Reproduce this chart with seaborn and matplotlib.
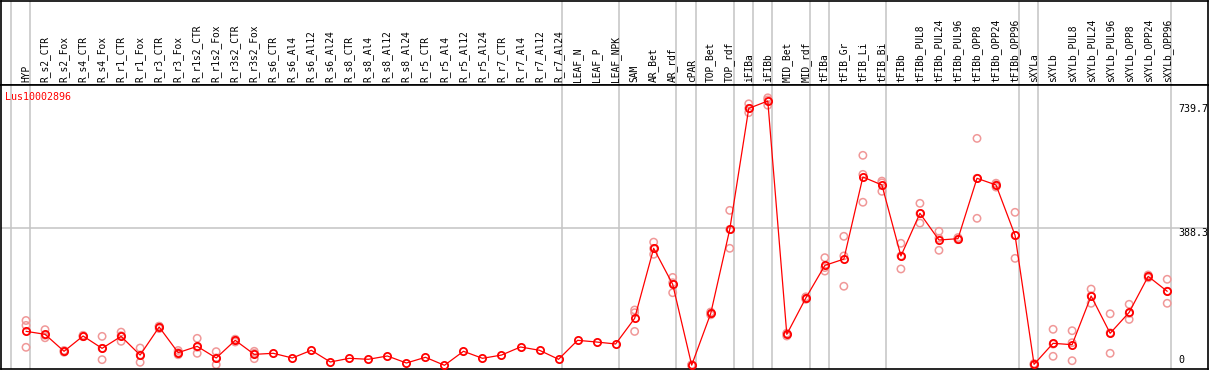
import numpy as np
import pandas as pd
import matplotlib
matplotlib.use("Agg")
import matplotlib.pyplot as plt
import seaborn as sns

# sample names, in plot order
samples = ["HYP", "R_s2_CTR", "R_s2_Fox", "R_s4_CTR", "R_s4_Fox", "R_r1_CTR", "R_r1_Fox",
           "R_r3_CTR", "R_r3_Fox", "R_r1s2_CTR", "R_r1s2_Fox", "R_r3s2_CTR", "R_r3s2_Fox",
           "R_s6_CTR", "R_s6_Al4", "R_s6_Al12", "R_s6_Al24", "R_s8_CTR", "R_s8_Al4", "R_s8_Al12",
           "R_s8_Al24", "R_r5_CTR", "R_r5_Al4", "R_r5_Al12", "R_r5_Al24", "R_r7_CTR", "R_r7_Al4",
           "R_r7_Al12", "R_r7_Al24", "LEAF_N", "LEAF_P", "LEAF_NPK", "SAM", "AR_Bet", "AR_rdf",
           "cPAR", "TOP_Bet", "TOP_rdf", "iFIBa", "iFIBb", "MID_Bet", "MID_rdf", "tFIBa",
           "tFIB_Gr", "tFIB_Li", "tFIB_Bi", "tFIBb", "tFIBb_PUL8", "tFIBb_PUL24", "tFIBb_PUL96",
           "tFIBb_OPP8", "tFIBb_OPP24", "tFIBb_OPP96", "sXYLa", "sXYLb", "sXYLb_PUL8",
           "sXYLb_PUL24", "sXYLb_PUL96", "sXYLb_OPP8", "sXYLb_OPP24", "sXYLb_OPP96"]

# mean expression per sample
means = [96.3, 87.8, 39.7, 83, 48, 82, 29, 108.5, 35.8, 53.7,
         20.7, 70.8, 31, 34, 20.7, 42.5, 9.4, 19.8, 17, 26.4,
         6.5, 22.7, 0, 39.7, 19.8, 29, 51.9, 42.5, 17, 70.8,
         66, 60.4, 133, 331.5, 229.5, 0.5, 147, 385, 728, 749,
         87.8, 190.7, 283, 301, 533.6, 511, 309.7, 430.7, 355, 358.8,
         529.9, 511, 368.4, 2.8, 62.3, 58.4, 196.4, 90.7, 150, 252, 209.7]

nan = np.nan
# biological replicates (NaN where none shown)
rep_a = [127, 101, 42, 85, 82, 94, 49, 111, 42, 76.4, 38.7, 74, 39.7] + [nan] * 19 + \
        [156.7, 349, 249, 2, 151, 439, 741, 758, 91, 194, 305, 365.5, 595, 522,
         345.7, 459, 379.7, 362, 643, 516, 433.5, 5, 102, 98, 216, 146, 172.9, 256, 243.7]
rep_b = [51, 78, 37, 81, 16, 68, 8.5, 104, 30, 34, 1.8, 66, 18.8] + [nan] * 19 + \
        [96, 314.5, 205.7, 0, 143, 331.5, 716, 737, 83, 187, 267, 224, 462, 493,
         273, 403, 325.9, 356, 416.5, 505, 303, 0.5, 25.5, 13, 175.7, 34, 130, 248, 175.7]
rep_c = [113, 85, 40, 83, 48, 84, 29, 110, 36, 51, 21, 72, 34] + [nan] * 19 + \
        [149, 331, 234, 0, 147, 385, 728, 752, 89, 191, 277, 310, 541, 517,
         310, 430, 360, 358, 530, 512, 368, 3, 60, 64, 197, 92, 147, 252, 210]

# group separators sit just after these sample indices
separators = [-1, 0, 28, 31, 34, 35, 37, 38, 39, 41, 42, 45, 52, 53, 60]
ytick_vals = [739.7, 388.3, 0]
gene = "Lus10002896"

x = np.arange(len(samples))
df_mean = pd.DataFrame({"x": x, "value": means})
df_rep = pd.DataFrame({"x": x, "a": rep_a, "b": rep_b, "c": rep_c})
df_rep = df_rep.melt(id_vars="x", value_name="value").dropna()

sns.set_style("white")
plt.rcParams["font.family"] = ["DejaVu Sans Mono", "DejaVu Sans"]

W, H = 1209, 370
fig = plt.figure(figsize=(W / 100, H / 100), dpi=100)
ax_top = fig.add_axes([1 / W, (H - 85) / H, 1207 / W, 84.5 / H])
ax = fig.add_axes([1 / W, 1 / H, 1207 / W, 284 / H], sharex=ax_top)

x_lo = (1 - 26) / 19.02
x_hi = (1208 - 26) / 19.02
ax.set_xlim(x_lo, x_hi)
ax.set_ylim((365.3 - 369) / 0.3529, (365.3 - 85) / 0.3529)
ax_top.set_ylim(0, 1)

for a in (ax, ax_top):
    for s in a.spines.values():
        s.set_color("black")
        s.set_linewidth(1.2)
    a.set_xticks([])
    a.set_yticks([])
    a.set_xlabel("")
    a.set_ylabel("")
    for sep in separators:
        a.axvline(sep + 0.2, color="#c4c4c4", lw=1.1, zorder=0)

ax.axhline(388.3, color="#c4c4c4", lw=1.1, zorder=0)

# replicate points
sns.scatterplot(data=df_rep, x="x", y="value", ax=ax, marker="o", s=28,
                facecolors="none", edgecolor="#f09898", linewidth=1.1, zorder=2, legend=False)
# mean line
sns.lineplot(data=df_mean, x="x", y="value", ax=ax, color="red", lw=0.9, sort=False,
             marker="o", markersize=5.2, markerfacecolor="none", markeredgecolor="red",
             markeredgewidth=1.3, zorder=3)
ax.set_xlabel("")
ax.set_ylabel("")

# sample labels in the header strip
for i, name in enumerate(samples):
    ax_top.text(i, 3 / 84.5, name, rotation=90, ha="center", va="bottom",
                fontsize=6.9, color="black", transform=ax_top.get_xaxis_transform())

ax.text(4 / 1207, (369 - 97) / 284, gene, color="red", fontsize=7.2,
        ha="left", va="center", transform=ax.transAxes)

x_lab = (1178 - 26) / 19.02
for v in ytick_vals:
    ax.text(x_lab, v, f"{v:g}", fontsize=7.2, ha="left",
            va="bottom" if v == 0 else "top", color="black", clip_on=True)

fig.savefig("out.png", dpi=100)
